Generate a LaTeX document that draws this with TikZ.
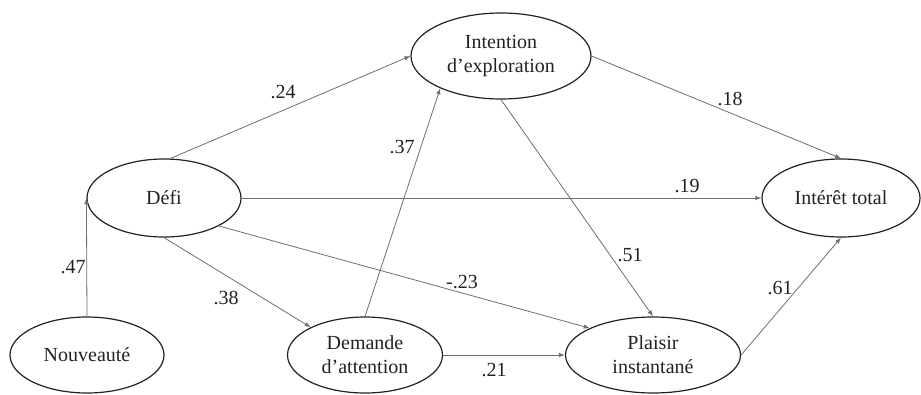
\documentclass[tikz,border=0pt]{standalone}
\usepackage{fontspec}
\setmainfont{Liberation Serif}
\usetikzlibrary{shapes.geometric,arrows.meta}
\definecolor{edgecol}{HTML}{6E6E6E}
\definecolor{inkcol}{HTML}{222222}
\tikzset{
  latent/.style={ellipse,draw=inkcol,line width=1.2pt,inner sep=0pt,align=center,
    text=inkcol,font=\fontsize{20}{24}\selectfont},
  path/.style={draw=edgecol,line width=0.8pt,-{Latex[length=6pt,width=4.5pt]}},
  coef/.style={text=inkcol,font=\fontsize{20}{24}\selectfont,inner sep=0pt}
}
\begin{document}
\begin{tikzpicture}[x=1pt,y=-1pt]
\useasboundingbox (0,0) rectangle (921,394);
\node[latent,minimum width=180pt,minimum height=86pt] (intent) at (501,56) {Intention\\d’exploration};
\node[latent,minimum width=154pt,minimum height=78pt] (defi) at (164,198) {Défi};
\node[latent,minimum width=158pt,minimum height=78pt] (interet) at (841,198) {Intérêt total};
\node[latent,minimum width=154pt,minimum height=76pt] (nouv) at (87,355) {Nouveauté};
\node[latent,minimum width=155pt,minimum height=76pt] (demande) at (365,355) {Demande\\d’attention};
\node[latent,minimum width=175pt,minimum height=76pt] (plaisir) at (653,355) {Plaisir\\instantané};

\draw[path] (nouv.north) -- (defi.west);
\draw[path] (defi.81) -- (intent.west);
\draw[path] (defi.east) -- (interet.west);
\draw[path] (defi.south) -- (demande.153);
\draw[path] (defi.333) -- (plaisir.157);
\draw[path] (demande.north) -- (intent.208);
\draw[path] (demande.east) -- (plaisir.west);
\draw[path] (intent.south) -- (plaisir.north);
\draw[path] (intent.east) -- (interet.north);
\draw[path] (plaisir.east) -- (interet.south);

\node[coef] (c47) at (73,267) {.47};
\node[coef] (c24) at (283,92) {.24};
\node[coef] (c19) at (687,186) {.19};
\node[coef] (c38) at (226,298) {.38};
\node[coef] (c23) at (462,282) {-.23};
\node[coef] (c37) at (402,147) {.37};
\node[coef] (c21) at (494,370) {.21};
\node[coef] (c51) at (630,255) {.51};
\node[coef] (c18) at (730,99) {.18};
\node[coef] (c61) at (780,288) {.61};
\end{tikzpicture}
\end{document}
